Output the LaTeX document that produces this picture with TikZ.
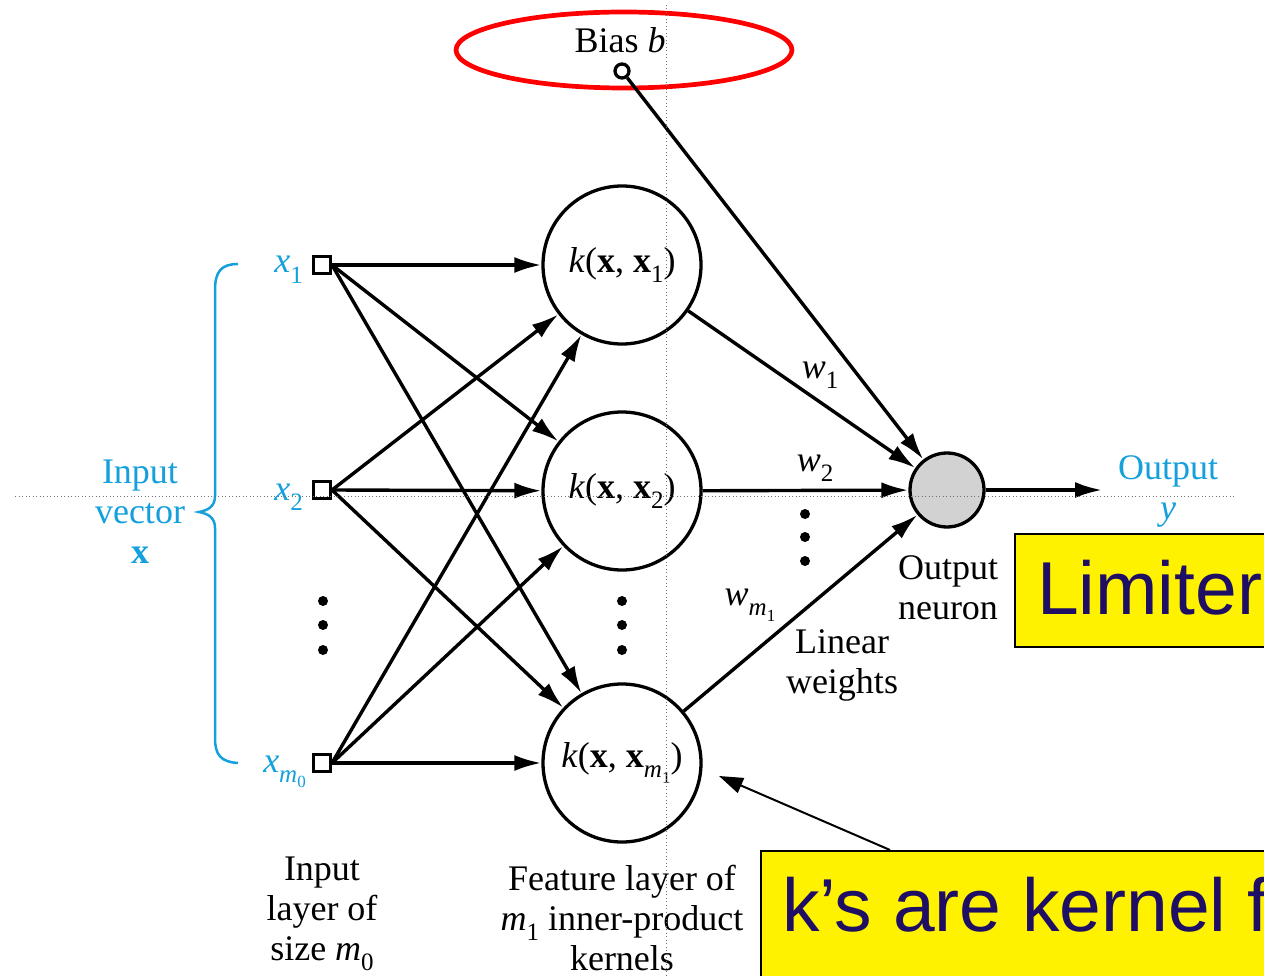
\documentclass[tikz,border=0pt]{standalone}
\usepackage{fontspec}
\setmainfont{Liberation Serif}
\newfontfamily\arialf{Liberation Sans}
\usetikzlibrary{arrows.meta,shapes.geometric}
\definecolor{cyantext}{RGB}{20,160,220}
\definecolor{navytext}{RGB}{30,14,100}
\definecolor{neurongray}{RGB}{210,210,210}
\newcommand\sbs[1]{\raisebox{-0.28em}{\fontsize{25}{25}\selectfont #1}}
\newcommand\ssbs[1]{\raisebox{-0.22em}{\fontsize{17}{17}\selectfont #1}}
\begin{document}
\begin{tikzpicture}[x=1pt,y=-1pt,
  every node/.style={font=\fontsize{36}{40}\selectfont},
  lbl/.style={inner sep=0pt, align=center},
  inbox/.style={draw, line width=3pt, minimum size=17pt, inner sep=0pt},
  kern/.style={draw, circle, line width=3.3pt, minimum size=158pt, inner sep=0pt},
  outn/.style={draw, circle, line width=3.3pt, minimum size=74pt, inner sep=0pt, fill=neurongray},
  biasc/.style={draw, circle, line width=3.3pt, minimum size=14pt, inner sep=0pt},
  conn/.style={line width=3.4pt, -{Latex[length=27pt,width=16pt]}},
  note/.style={draw, line width=2pt, fill=yellow, text=navytext, font=\arialf\fontsize{75}{82}\selectfont, align=left},
  guide/.style={draw=black!55, line width=1pt, dash pattern=on 1pt off 2.5pt},
  cy/.style={text=cyantext}
]
\useasboundingbox (0,0) rectangle (1264,976);
\clip (0,0) rectangle (1264,976);

% bias
\node[lbl] (biastxt) at (620,40) {Bias \textit{b}};
\node[biasc] (bias) at (622,71) {};
\node[draw=red, ellipse, line width=4.7pt, minimum width=336pt, minimum height=76pt] (redring) at (624,50) {};

% input layer
\node[inbox] (x1) at (322,265) {};
\node[inbox] (x2) at (322,490) {};
\node[inbox] (xm) at (322,763) {};
\node[lbl, cy, anchor=base east] (x1lbl) at (303,273) {\textit{x}\sbs{1}};
\node[lbl, cy, anchor=base east] (x2lbl) at (303,500) {\textit{x}\sbs{2}};
\node[lbl, cy, anchor=base east] (xmlbl) at (306,772) {\textit{x}\sbs{\textit{m}\ssbs{0}}};

% brace
\draw[cyantext, line width=2.5pt]
  (238,264) .. controls (221,264) and (215,272) .. (215,290) -- (215,496)
  .. controls (215,505) and (210,510) .. (199,512)
  .. controls (210,514) and (215,519) .. (215,528) -- (215,738)
  .. controls (215,755) and (221,762) .. (238,763);
\node[lbl, cy] (invec) at (140,512) {Input\\vector\\\textbf{x}};

% feature layer
\node[kern] (k1) at (622,265) {\textit{k}(\textbf{x}, \textbf{x}\sbs{1})};
\node[kern] (k2) at (622,491) {\textit{k}(\textbf{x}, \textbf{x}\sbs{2})};
\node[kern] (km) at (622,763) {\textit{k}(\textbf{x}, \textbf{x}\sbs{\textit{m}\ssbs{1}})};

% output
\node[outn] (out) at (947,490) {};
\coordinate (yend) at (1102,490);
\node[lbl, cy] (outlbl) at (1168,491) {Output\\\textit{y}};
\node[lbl] (outneu) at (948,588) {Output\\neuron};
\node[lbl] (linw) at (842,665) {Linear\\weights};

% weights
\node[lbl] (w1) at (820,375) {\textit{w}\sbs{1}};
\node[lbl] (w2) at (815,468) {\textit{w}\sbs{2}};
\node[lbl] (wm) at (750,605) {\textit{w}\sbs{\textit{m}\ssbs{1}}};

% dots
\foreach \yy in {601,625,650} {
  \fill (323,\yy) circle[radius=5pt];
  \fill (622,\yy) circle[radius=5pt];
}
\foreach \yy in {514,537,561} { \fill (805,\yy) circle[radius=5pt]; }

% bottom labels
\node[lbl] (inlayer) at (322,914) {Input\\layer of\\size \textit{m}\sbs{0}};
\node[lbl] (featlayer) at (622,918) {Feature layer of\\\textit{m}\sbs{1} inner-product\\kernels};

% connections
\foreach \i in {x1,x2,xm} {
  \foreach \k in {k1,k2,km} {
    \draw[conn] (\i.east) -- (\k);
  }
}
\draw[conn] (k1) -- (out);
\draw[conn] (k2) -- (out);
\draw[conn] (km) -- (out);
\draw[conn] (bias) -- (out);
\draw[conn] (out) -- (yend);

% yellow notes
\node[note, anchor=north west, inner xsep=22pt, inner ysep=26pt, text depth=7pt, text width=300pt] (lim) at (1014,533) {Limiter};
\node[note, anchor=north west, inner xsep=21pt, inner ysep=26pt] (knote) at (760,850) {k’s are kernel functions\\[30pt]\strut};
\coordinate (ktip) at (719,776);
\draw[line width=2pt, -{Triangle[length=24pt,width=16pt]}] ([xshift=130pt]knote.north west) -- (ktip);

% guides
\draw[guide] (15,496) -- (1235,496);
\draw[guide] (666,5) -- (666,976);
\end{tikzpicture}
\end{document}
